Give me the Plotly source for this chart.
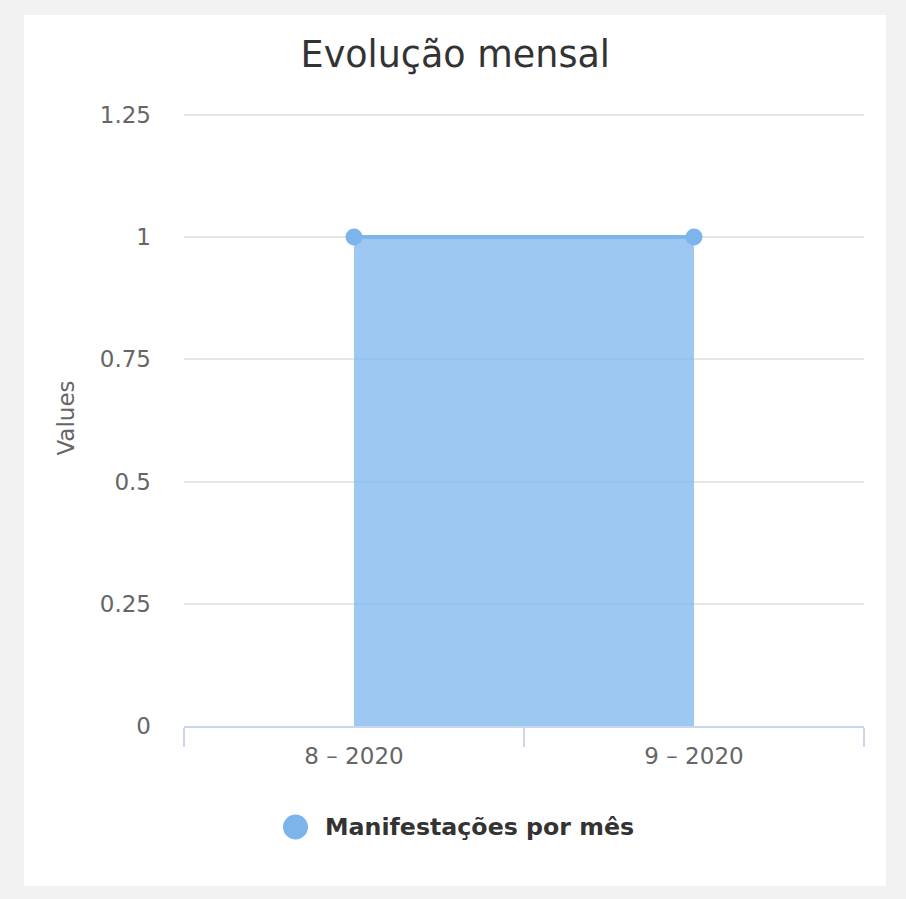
import plotly.graph_objects as go

# Highcharts-style area chart, two months
months = ["8 – 2020", "9 – 2020"]
values = [1, 1]
series_name = "Manifestações por mês"
y_ticks = [0, 0.25, 0.5, 0.75, 1, 1.25]
y_tick_text = ["0", "0.25", "0.5", "0.75", "1", "1.25"]

BLUE = "#7cb5ec"
FONT = "DejaVu Sans"

fig = go.Figure()
fig.add_trace(go.Scatter(
    x=months, y=values, mode="lines+markers", name=series_name,
    line=dict(color=BLUE, width=4),
    marker=dict(color=BLUE, size=17),
    fill="tozeroy", fillcolor="rgba(124,181,236,0.75)",
    showlegend=False,
))

# plot area runs 110..726 px; paper y=0 at 726, y=1 at 110
H = 616.0


def py(px):
    return (726 - px) / H


def pxx(px):
    return (px - 184) / 680.0


# white card on grey page
fig.add_shape(type="rect", xref="paper", yref="paper", layer="below",
              x0=pxx(24), x1=pxx(886), y0=py(886), y1=py(15),
              fillcolor="white", line_width=0)

# legend drawn by hand so the circle can be as big as Highcharts'
fig.add_shape(type="circle", xref="paper", yref="paper",
              x0=pxx(283), x1=pxx(308), y0=py(839.5), y1=py(814.5),
              fillcolor=BLUE, line_width=0)
fig.add_annotation(text=f"<b>{series_name}</b>", xref="paper", yref="paper",
                   x=pxx(323), y=py(827), xanchor="left", yanchor="middle",
                   showarrow=False,
                   font=dict(family=FONT, size=23.7, color="#333333"))

fig.update_layout(
    width=906, height=899,
    margin=dict(l=184, r=42, t=110, b=173),
    paper_bgcolor="#f2f2f2", plot_bgcolor="rgba(0,0,0,0)",
    font=dict(family=FONT, color="#666666"),
    title=dict(text="Evolução mensal", x=0.5025, xanchor="center",
               y=0.9395, yanchor="middle",
               font=dict(family=FONT, size=36.5, color="#333333")),
    showlegend=False,
)
fig.update_xaxes(
    type="category", range=[-0.5, 1.5], showgrid=False,
    showline=True, linecolor="#ccd6eb", linewidth=1.5,
    ticks="outside", tickson="boundaries", ticklen=19, tickcolor="#ccd6eb",
    tickwidth=1.5, ticklabelstandoff=9,
    tickfont=dict(family=FONT, size=23, color="#666666"),
    zeroline=False,
)
fig.update_yaxes(
    range=[0, 1.26], tickvals=y_ticks, ticktext=y_tick_text,
    showgrid=True, gridcolor="#e6e6e6", gridwidth=1.5,
    zeroline=False, showline=False, ticks="", ticklabelstandoff=32,
    tickfont=dict(family=FONT, size=23, color="#666666"),
    title=dict(text="Values", standoff=18,
               font=dict(family=FONT, size=23, color="#666666")),
)

fig.write_html("out.html", config={"displayModeBar": False}, post_script=(
    "document.body.style.margin='0';"
    "document.body.style.overflow='hidden';"))
